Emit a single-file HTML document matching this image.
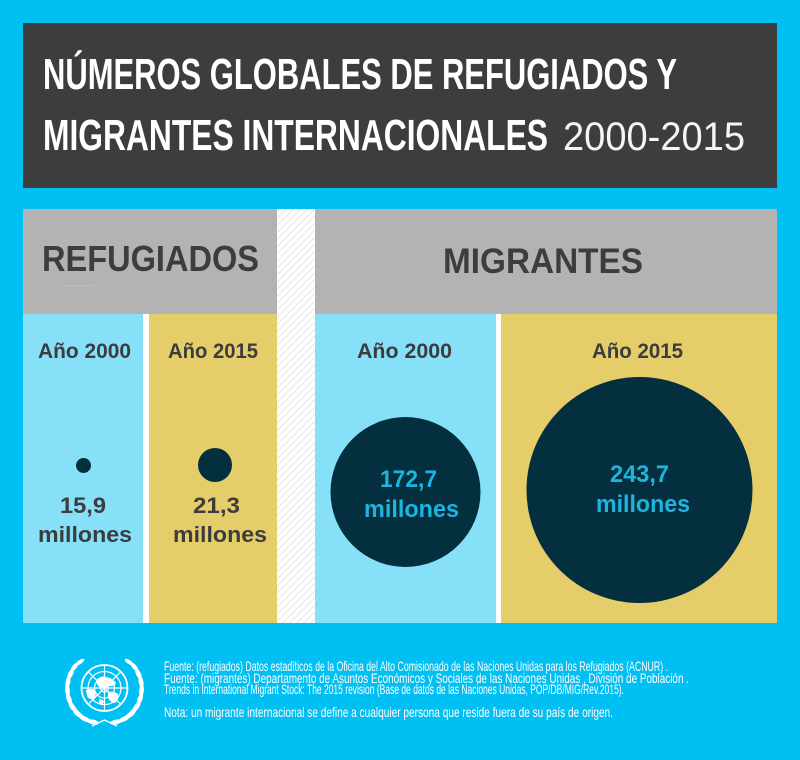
<!DOCTYPE html>
<html>
<head>
<meta charset="utf-8">
<style>
  html, body { margin: 0; padding: 0; background: #00bff2; }
  svg { display: block; }
  text { font-family: "Liberation Sans", "DejaVu Sans", sans-serif; }
</style>
</head>
<body>
<svg width="800" height="760" viewBox="0 0 800 760" xmlns="http://www.w3.org/2000/svg">
  <defs>
    <pattern id="hatch" width="5" height="5" patternUnits="userSpaceOnUse" patternTransform="rotate(45)">
      <rect width="5" height="5" fill="#ffffff"/>
      <line x1="0" y1="0" x2="0" y2="5" stroke="#dcdcdc" stroke-width="1.4"/>
    </pattern>
  </defs>

  <rect x="0" y="0" width="800" height="760" fill="#00bff2"/>

  <!-- title box -->
  <rect x="23" y="23" width="754" height="165" fill="#3d3d3f"/>
  <text x="43" y="89" font-size="43.5" font-weight="bold" fill="#ffffff" textLength="634" lengthAdjust="spacingAndGlyphs">NÚMEROS GLOBALES DE REFUGIADOS Y</text>
  <text x="43" y="150" font-size="44" font-weight="bold" fill="#ffffff" textLength="505" lengthAdjust="spacingAndGlyphs">MIGRANTES INTERNACIONALES</text>
  <text x="563" y="150" font-size="40" fill="#ffffff" fill-opacity="0.95" textLength="182" lengthAdjust="spacingAndGlyphs">2000-2015</text>

  <!-- gray headers -->
  <rect x="23" y="209" width="254" height="105" fill="#b3b3b3"/>
  <rect x="315" y="209" width="462" height="105" fill="#b3b3b3"/>
  <text x="42" y="271" font-size="36" font-weight="bold" fill="#3d3d3f" textLength="217" lengthAdjust="spacingAndGlyphs">REFUGIADOS</text>
  <rect x="60" y="285" width="35" height="1" fill="#bdbdbd"/>
  <text x="443" y="273" font-size="35" font-weight="bold" fill="#3d3d3f" textLength="200" lengthAdjust="spacingAndGlyphs">MIGRANTES</text>

  <!-- hatched strip -->
  <rect x="277" y="209" width="38" height="414" fill="url(#hatch)"/>

  <!-- columns -->
  <rect x="23" y="314" width="120" height="309" fill="#85e0f8"/>
  <rect x="143" y="314" width="6" height="309" fill="#ffffff"/>
  <rect x="149" y="314" width="128" height="309" fill="#e5cd69"/>
  <rect x="315" y="314" width="181" height="309" fill="#85e0f8"/>
  <rect x="496" y="314" width="5" height="309" fill="#ffffff"/>
  <rect x="501" y="314" width="276" height="309" fill="#e5cd69"/>

  <!-- column headers -->
  <text x="38" y="358" font-size="21" font-weight="bold" fill="#3c3c3e" textLength="93" lengthAdjust="spacingAndGlyphs">Año 2000</text>
  <text x="168" y="358" font-size="21" font-weight="bold" fill="#3c3c3e" textLength="90" lengthAdjust="spacingAndGlyphs">Año 2015</text>
  <text x="357" y="358" font-size="21" font-weight="bold" fill="#3c3c3e" textLength="95" lengthAdjust="spacingAndGlyphs">Año 2000</text>
  <text x="592" y="358" font-size="21" font-weight="bold" fill="#3c3c3e" textLength="91" lengthAdjust="spacingAndGlyphs">Año 2015</text>

  <!-- circles -->
  <circle cx="83.5" cy="465.5" r="7.5" fill="#032f3e"/>
  <circle cx="215" cy="465" r="17" fill="#032f3e"/>
  <circle cx="405.5" cy="492" r="75" fill="#032f3e"/>
  <circle cx="639.5" cy="490" r="113" fill="#032f3e"/>

  <!-- values -->
  <text x="60" y="513" font-size="22" font-weight="bold" fill="#3c3c3e" textLength="46" lengthAdjust="spacingAndGlyphs">15,9</text>
  <text x="38" y="542" font-size="22" font-weight="bold" fill="#3c3c3e" textLength="94" lengthAdjust="spacingAndGlyphs">millones</text>
  <text x="193" y="513" font-size="22" font-weight="bold" fill="#3c3c3e" textLength="47" lengthAdjust="spacingAndGlyphs">21,3</text>
  <text x="173" y="542" font-size="22" font-weight="bold" fill="#3c3c3e" textLength="94" lengthAdjust="spacingAndGlyphs">millones</text>

  <text x="380" y="487" font-size="24" font-weight="bold" fill="#1cb5e0" textLength="57" lengthAdjust="spacingAndGlyphs">172,7</text>
  <text x="364" y="517" font-size="24" font-weight="bold" fill="#1cb5e0" textLength="95" lengthAdjust="spacingAndGlyphs">millones</text>
  <text x="610" y="482" font-size="24" font-weight="bold" fill="#1cb5e0" textLength="59" lengthAdjust="spacingAndGlyphs">243,7</text>
  <text x="596" y="512" font-size="24" font-weight="bold" fill="#1cb5e0" textLength="94" lengthAdjust="spacingAndGlyphs">millones</text>

  <!-- UN logo -->
  <g fill="none" stroke="#ffffff">
    <circle cx="104.5" cy="688" r="23" stroke-width="1.8"/>
    <circle cx="104.5" cy="688" r="16.5" stroke-width="1.2"/>
    <circle cx="104.5" cy="688" r="10" stroke-width="1.2"/>
    <circle cx="104.5" cy="688" r="4" stroke-width="1.2"/>
    <line x1="104.5" y1="665" x2="104.5" y2="711" stroke-width="1.2"/>
    <line x1="81.5" y1="688" x2="127.5" y2="688" stroke-width="1.2"/>
    <line x1="88.2" y1="671.7" x2="120.8" y2="704.3" stroke-width="1.1"/>
    <line x1="120.8" y1="671.7" x2="88.2" y2="704.3" stroke-width="1.1"/>
  </g>
  <g fill="#ffffff">
    <path d="M96 681 q4 -6 10 -4 q7 1 10 6 q-2 4 -7 3 q-3 4 -8 2 q-4 -2 -5 -7z"/>
    <path d="M86 690 q5 -2 9 0 q2 5 -1 9 q-5 1 -7 -3z"/>
    <path d="M108 692 q6 -1 10 2 q1 6 -3 9 q-6 -1 -7 -6z"/>
    <path d="M99 699 q4 0 5 3 q-2 4 -5 1z"/>
  </g>
  <g id="wreathL" fill="#ffffff">
    <path d="M97 724 Q72 714 67 690 Q67.5 673 78 662" fill="none" stroke="#ffffff" stroke-width="1.3"/>
    <ellipse cx="93" cy="722" rx="6" ry="2.4" transform="rotate(12 93 722)"/>
    <ellipse cx="85" cy="719" rx="6" ry="2.4" transform="rotate(25 85 719)"/>
    <ellipse cx="78" cy="714" rx="6" ry="2.4" transform="rotate(40 78 714)"/>
    <ellipse cx="72.5" cy="707" rx="6" ry="2.4" transform="rotate(55 72.5 707)"/>
    <ellipse cx="69" cy="699" rx="6" ry="2.4" transform="rotate(70 69 699)"/>
    <ellipse cx="67.5" cy="690.5" rx="6" ry="2.4" transform="rotate(85 67.5 690.5)"/>
    <ellipse cx="68" cy="682" rx="6" ry="2.4" transform="rotate(100 68 682)"/>
    <ellipse cx="70.5" cy="674" rx="6" ry="2.4" transform="rotate(115 70.5 674)"/>
    <ellipse cx="74.5" cy="667" rx="5.5" ry="2.2" transform="rotate(130 74.5 667)"/>
    <ellipse cx="80" cy="662" rx="5" ry="2" transform="rotate(145 80 662)"/>
  </g>
  <use href="#wreathL" transform="translate(209 0) scale(-1 1)"/>
  <path d="M92 726 L104.5 720 L117 726" fill="none" stroke="#ffffff" stroke-width="1.4"/>

  <!-- footer text -->
  <text x="164" y="671" font-size="13.6" fill="#ffffff" textLength="504" lengthAdjust="spacingAndGlyphs">Fuente: (refugiados) Datos estadíticos de la Oficina del Alto Comisionado de las Naciones Unidas para los Refugiados (ACNUR) .</text>
  <text x="164" y="683" font-size="13.6" fill="#ffffff" textLength="525" lengthAdjust="spacingAndGlyphs">Fuente: (migrantes) Departamento de Asuntos Económicos y Sociales de las Naciones Unidas , División de Población .</text>
  <text x="164" y="694" font-size="13.6" fill="#ffffff" textLength="460" lengthAdjust="spacingAndGlyphs">Trends in International Migrant Stock: The 2015 revision (Base de datos de las Naciones Unidas, POP/DB/MIG/Rev.2015).</text>
  <text x="164" y="717" font-size="13.6" fill="#ffffff" textLength="449" lengthAdjust="spacingAndGlyphs">Nota: un migrante internacional se define a cualquier persona que reside fuera de su país de origen.</text>
</svg>
</body>
</html>
